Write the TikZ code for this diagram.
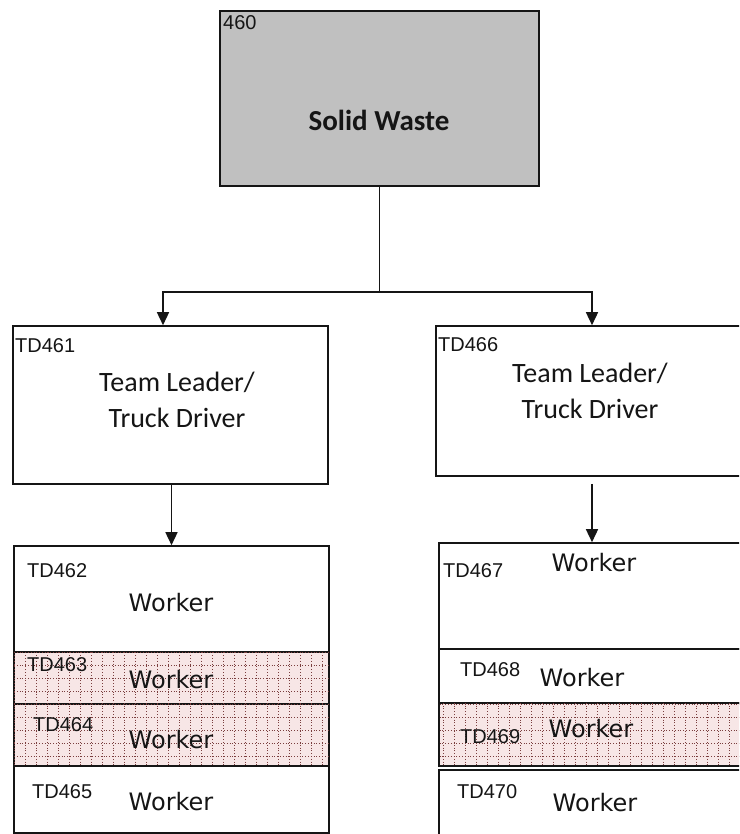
\documentclass[tikz,border=0pt]{standalone}
\usepackage{fontspec}
\setmainfont{Liberation Sans}
\newfontfamily\calib{Carlito}
\newfontfamily\dejavu{DejaVu Sans}
\usetikzlibrary{arrows.meta,calc}
\definecolor{boxgray}{HTML}{C0C0C0}
\definecolor{hatchbg}{HTML}{F7E6E6}
\definecolor{hatchdot}{HTML}{7A3E3E}
\definecolor{edge}{HTML}{151515}
\definecolor{ink}{HTML}{151515}
\newcommand\hatchgrid[1]{%
  \begin{scope}
    \clip ($(#1.north west)+(1,1)$) rectangle ($(#1.south east)+(-1,-1)$);
    \foreach \xx in {3,14,...,750} \draw[dotgrid] (\xx,0) -- (\xx,840);
    \foreach \yy in {2,15,...,840} \draw[dotgrid] (0,\yy) -- (750,\yy);
  \end{scope}}
\begin{document}
\begin{tikzpicture}[x=1pt,y=-1pt,
  box/.style={draw=edge,line width=1.6pt,rectangle,inner sep=0pt,fill=white},
  hatchbox/.style={box,fill=hatchbg},
  conn/.style={draw=edge,line width=1.5pt},
  arr/.style={conn,-{Triangle[width=12pt,length=13pt]}},
  idlabel/.style={font=\fontsize{20}{24}\selectfont,text=ink,anchor=west,inner sep=0pt},
  worker/.style={font=\dejavu\fontsize{24}{28}\selectfont,text=ink,inner sep=0pt},
  role/.style={font=\calib\fontsize{28}{36}\selectfont,text=ink,align=center,inner sep=0pt},
  dotgrid/.style={draw=hatchdot,line width=0.9pt,dash pattern=on 1pt off 1.8pt}]
\useasboundingbox (0,0) rectangle (739,834);
\fill[white] (0,0) rectangle (739,834);
\begin{scope}
\clip (0,0) rectangle (739,834);
% boxes
\node[box,fill=boxgray,minimum width=319pt,minimum height=175pt] (top) at (379.5,98.5) {};
\node[box,minimum width=315pt,minimum height=158pt] (tl1) at (170.5,405) {};
\node[box,minimum width=312pt,minimum height=150pt] (tl2) at (592,401) {};
\node[box,minimum width=315pt,minimum height=106pt] (w462) at (171.5,599) {};
\node[hatchbox,minimum width=315pt,minimum height=52pt] (w463) at (171.5,678) {};
\node[hatchbox,minimum width=315pt,minimum height=62pt] (w464) at (171.5,735) {};
\node[box,minimum width=315pt,minimum height=67pt] (w465) at (171.5,799.5) {};
\node[box,minimum width=306pt,minimum height=106pt] (w467) at (592,596) {};
\node[box,minimum width=306pt,minimum height=54pt] (w468) at (592,676) {};
\node[hatchbox,minimum width=306pt,minimum height=63pt] (w469) at (592,734.5) {};
\node[box,minimum width=306pt,minimum height=70pt] (w470) at (592,805) {};
\hatchgrid{w463}
\hatchgrid{w464}
\hatchgrid{w469}
% connectors
\coordinate (bus) at (379.5,292);
\draw[conn] (top.south) -- (bus);
\draw[arr] (bus) -| ($(tl1.north)+(-7.5,0)$);
\draw[arr] (bus) -| (tl2.north);
\draw[arr] (tl1.south -| w462.north) -- (w462.north);
\draw[arr] ($(tl2.south -| w467.north)+(0,7)$) -- (w467.north);
% texts
\node[idlabel] (t460) at (223,22.5) {460};
\node[font=\calib\bfseries\fontsize{29}{34}\selectfont,text=ink,inner sep=0pt] (sw) at (379,120) {Solid Waste};
\node[idlabel] (t461) at (15,346) {TD461};
\node[role] (r461) at (177,400) {Team Leader/\\Truck Driver};
\node[idlabel] (t466) at (438,345) {TD466};
\node[role] (r466) at (590,391) {Team Leader/\\Truck Driver};
\node[idlabel] (t462) at (27,571) {TD462};
\node[worker] (k462) at (171,603) {Worker};
\node[idlabel] (t463) at (27,665) {TD463};
\node[worker] (k463) at (171,680) {Worker};
\node[idlabel] (t464) at (33,725) {TD464};
\node[worker] (k464) at (171,740) {Worker};
\node[idlabel] (t465) at (32,792) {TD465};
\node[worker] (k465) at (171,802) {Worker};
\node[idlabel] (t467) at (443,571) {TD467};
\node[worker] (k467) at (594,563) {Worker};
\node[idlabel] (t468) at (460,670) {TD468};
\node[worker] (k468) at (582,678) {Worker};
\node[idlabel] (t469) at (460,737) {TD469};
\node[worker] (k469) at (591,729) {Worker};
\node[idlabel] (t470) at (457,792) {TD470};
\node[worker] (k470) at (595,803) {Worker};
\end{scope}
\end{tikzpicture}
\end{document}
